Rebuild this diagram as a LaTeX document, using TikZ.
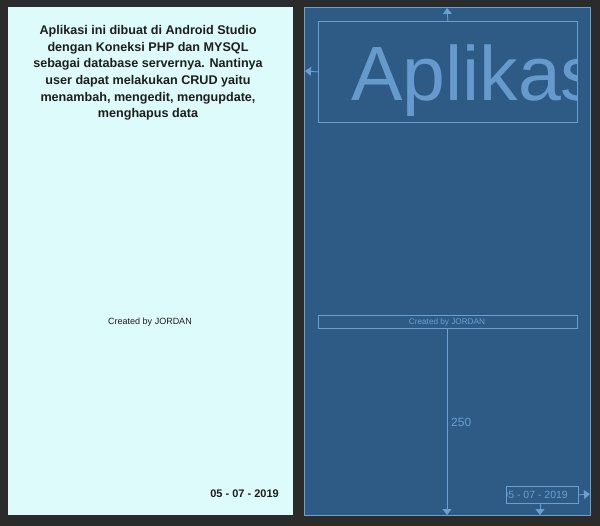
\documentclass[tikz,border=0pt]{standalone}
\usepackage{fontspec}
\setmainfont{Liberation Sans}
\usetikzlibrary{arrows.meta}
\definecolor{bgdark}{HTML}{2B2B2B}
\definecolor{panelcyan}{HTML}{DCFBFA}
\definecolor{panelblue}{HTML}{2D5B86}
\definecolor{lineblue}{HTML}{6B9FD2}
\definecolor{textdark}{HTML}{1E1E1E}
\tikzset{
  bp/.style={draw=lineblue, line width=0.8pt},
  tip/.style={-{Triangle[width=9pt,length=6pt]}, draw=lineblue, fill=lineblue, line width=0.8pt},
  boldtxt/.style={font=\fontsize{12.6}{16.7}\selectfont\bfseries, text=textdark, align=center, inner sep=0pt},
}
\begin{document}
\begin{tikzpicture}[x=1pt,y=-1pt]
\useasboundingbox (0,0) rectangle (600,526);
\fill[bgdark] (0,0) rectangle (600,526);
% left panel
\fill[panelcyan] (8,7) rectangle (293,515);
\node[boldtxt, anchor=center] (desc) at (148,73) {Aplikasi ini dibuat di Android Studio\\dengan Koneksi PHP dan MYSQL\\sebagai database servernya. Nantinya\\user dapat melakukan CRUD yaitu\\menambah, mengedit, mengupdate,\\menghapus data};
\node[font=\fontsize{9}{10}\selectfont, text=textdark, inner sep=0pt] (created) at (150,322) {Created by JORDAN};
\node[font=\fontsize{11}{12}\selectfont\bfseries, text=textdark, inner sep=0pt, anchor=east] (date) at (279,494) {05 - 07 - 2019};
% right panel
\fill[panelblue] (304,7) rectangle (590,515);
\draw[bp] (304,7) rectangle (590,515);
\coordinate (ptop) at (447,8);
\coordinate (pleft) at (305,71);
\coordinate (pbot) at (447,515);
\coordinate (pbot2) at (540,515);
\coordinate (pright) at (590,494);
% title box
\begin{scope}
\clip (318,21) rectangle (577,122);
\node[font=\fontsize{77}{77}\selectfont, text=lineblue!92!panelblue, anchor=base west, inner sep=0pt] at (351,101) {Aplikasi};
\end{scope}
\node[bp, minimum width=259pt, minimum height=101pt, anchor=north west, inner sep=0pt] (title) at (318,21) {};
\draw[tip] (title.north) -- (ptop);
\draw[tip] (title.west) -- (pleft);
% created box
\node[bp, minimum width=259pt, minimum height=13pt, anchor=north west, inner sep=0pt] (cbox) at (318,315) {};
\node[font=\fontsize{8.2}{9}\selectfont, text=lineblue, inner sep=0pt] (ctext) at (447,322) {Created by JORDAN};
\draw[tip] (cbox.south -| pbot) -- (pbot);
\node[font=\fontsize{12}{13}\selectfont, text=lineblue, inner sep=0pt, anchor=west] (dim) at (451,422) {250};
% date box
\begin{scope}
\clip (506,486) rectangle (578,503);
\node[font=\fontsize{10.5}{11}\selectfont, text=lineblue, inner sep=0pt, anchor=east] at (568,494.5) {05 - 07 - 2019};
\end{scope}
\node[bp, minimum width=72pt, minimum height=17pt, anchor=north west, inner sep=0pt] (dbox) at (506,486) {};
\draw[tip] (dbox.east) -- (pright);
\draw[tip] (dbox.south -| pbot2) -- (pbot2);
\end{tikzpicture}
\end{document}
